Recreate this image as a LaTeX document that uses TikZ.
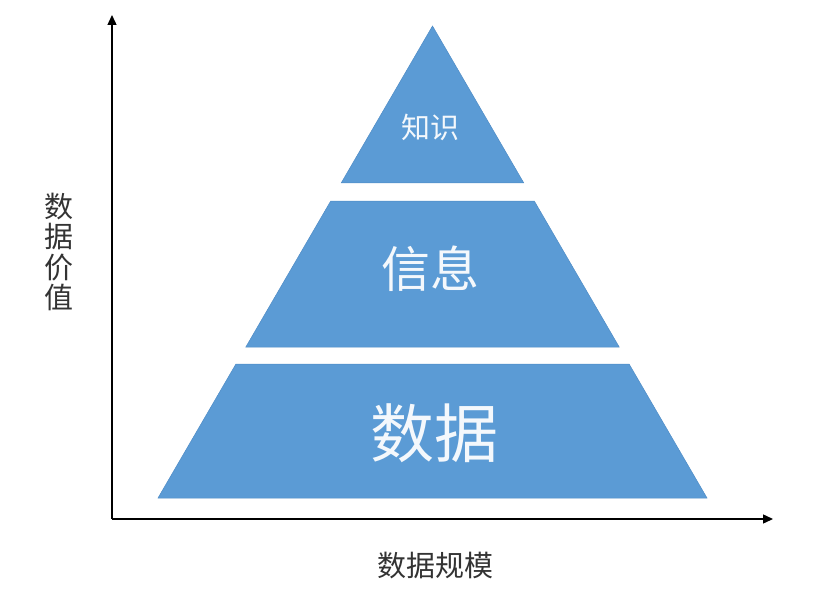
\documentclass[tikz,border=0pt]{standalone}
\usepackage{fontspec}
\setmainfont{Noto Sans CJK SC}
\usepackage{tikz}
\usetikzlibrary{arrows.meta,calc,positioning}
\definecolor{pyrBlue}{HTML}{5B9BD5}
\definecolor{pyrEdge}{HTML}{4F8CC6}
\definecolor{pyrText}{HTML}{F4F8FC}
\newcommand{\pyrUnit}{1pt}
\newcommand{\axisFont}{\fontsize{29}{30.5}\selectfont}

\begin{document}
\begin{tikzpicture}[x=\pyrUnit, y=-\pyrUnit,
		layer/.style={fill=pyrBlue, draw=pyrEdge, line width=0.5pt},
		layerText/.style={text=pyrText, inner sep=0pt},
		axis/.style={line width=1.4pt, -{Triangle[length=10pt,width=9pt]}},
		axisText/.style={text=black!80, font=\axisFont, inner sep=0pt, align=center}]
		\useasboundingbox (0,0) rectangle (834,596);
		
		% pyramid
		\coordinate (apex) at (432.5,26);
		\coordinate (baseL) at (158,498);
		\coordinate (baseR) at (707,498);
		\foreach \a/\b in {0/0.3326, 0.3708/0.6801, 0.7161/1}
			\filldraw[layer] ($(apex)!\a!(baseL)$) -- ($(apex)!\b!(baseL)$) -- ($(apex)!\b!(baseR)$) -- ($(apex)!\a!(baseR)$) -- cycle;
		
		\node[layerText, font=\fontsize{29}{29}\selectfont] (zhishi) at (430.5,127) {知识};
		\node[layerText, font=\fontsize{49}{49}\selectfont] (xinxi) at (430.5,269) {信息};
		\node[layerText, font=\fontsize{64}{64}\selectfont] (shuju) at (434.5,433) {数据};
		
		% axes
		\coordinate (origin) at (112,519);
		\coordinate (yEnd) at (112,15);
		\coordinate (xEnd) at (773,519);
		\draw[axis] (origin) -- (yEnd);
		\draw[axis] (origin) -- (xEnd);
		
		\node[axisText] (valueLabel) at (59,252) {数\\据\\价\\值};
		\node[axisText] (scaleLabel) at (435,566) {数据规模};
		%\node[axisText] at (0,0) {};
	\end{tikzpicture}
\end{document}
